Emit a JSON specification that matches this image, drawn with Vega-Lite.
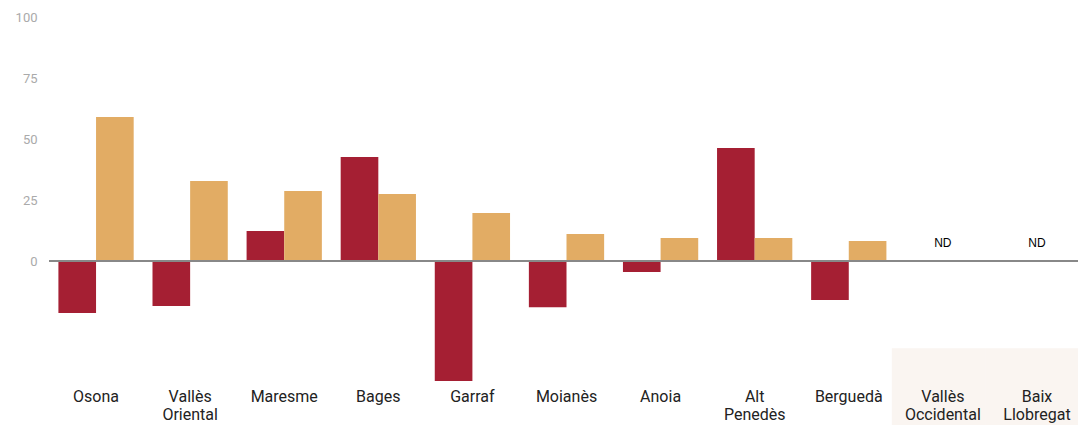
{
  "$schema": "https://vega.github.io/schema/vega-lite/v6.json",
  "autosize": {"type": "none"},
  "padding": {"left": 49, "top": 17, "right": 0, "bottom": 0},
  "width": 1035,
  "height": 408,
  "background": "white",
  "config": {"view": {"stroke": null}, "font": "Roboto"},
  "datasets": {
    "bars": [
      {"comarca": "Osona", "serie": "Sèrie 1", "valor": -21.3},
      {"comarca": "Osona", "serie": "Sèrie 2", "valor": 59.0},
      {"comarca": "Vallès Oriental", "serie": "Sèrie 1", "valor": -18.4},
      {"comarca": "Vallès Oriental", "serie": "Sèrie 2", "valor": 32.8},
      {"comarca": "Maresme", "serie": "Sèrie 1", "valor": 12.3},
      {"comarca": "Maresme", "serie": "Sèrie 2", "valor": 28.7},
      {"comarca": "Bages", "serie": "Sèrie 1", "valor": 42.6},
      {"comarca": "Bages", "serie": "Sèrie 2", "valor": 27.5},
      {"comarca": "Garraf", "serie": "Sèrie 1", "valor": -49.2},
      {"comarca": "Garraf", "serie": "Sèrie 2", "valor": 19.7},
      {"comarca": "Moianès", "serie": "Sèrie 1", "valor": -18.9},
      {"comarca": "Moianès", "serie": "Sèrie 2", "valor": 11.1},
      {"comarca": "Anoia", "serie": "Sèrie 1", "valor": -4.5},
      {"comarca": "Anoia", "serie": "Sèrie 2", "valor": 9.4},
      {"comarca": "Alt Penedès", "serie": "Sèrie 1", "valor": 46.3},
      {"comarca": "Alt Penedès", "serie": "Sèrie 2", "valor": 9.4},
      {"comarca": "Berguedà", "serie": "Sèrie 1", "valor": -16.0},
      {"comarca": "Berguedà", "serie": "Sèrie 2", "valor": 8.2},
      {"comarca": "Vallès Occidental", "serie": "Sèrie 1", "valor": 0},
      {"comarca": "Vallès Occidental", "serie": "Sèrie 2", "valor": 0},
      {"comarca": "Baix Llobregat", "serie": "Sèrie 1", "valor": 0},
      {"comarca": "Baix Llobregat", "serie": "Sèrie 2", "valor": 0}
    ],
    "nd": [
      {"comarca": "Vallès Occidental", "txt": "ND"},
      {"comarca": "Baix Llobregat", "txt": "ND"}
    ]
  },
  "layer": [
    {
      "data": {"name": "nd"},
      "mark": {"type": "rect", "color": "#faf5f1", "xOffset": -4},
      "encoding": {
        "x": {
          "field": "comarca",
          "type": "nominal",
          "sort": null,
          "scale": {
            "domain": ["Osona", "Vallès Oriental", "Maresme", "Bages", "Garraf", "Moianès", "Anoia", "Alt Penedès", "Berguedà", "Vallès Occidental", "Baix Llobregat"],
            "paddingInner": 0,
            "paddingOuter": 0
          },
          "axis": {
            "orient": "bottom",
            "offset": -38,
            "domain": false,
            "ticks": false,
            "grid": false,
            "labelAngle": 0,
            "labelFontSize": 16,
            "labelColor": "#222222",
            "labelFont": "Roboto",
            "labelExpr": "split(datum.label, ' ')",
            "labelLineHeight": 18,
            "labelPadding": 1,
            "title": null,
            "zindex": 1
          }
        },
        "y": {
          "datum": -35.7,
          "scale": {"domain": [-67.2, 100], "nice": false, "zero": false},
          "axis": {
            "values": [0, 25, 50, 75, 100],
            "domain": false,
            "ticks": false,
            "labelColor": "#aaaaaa",
            "labelFontSize": 13,
            "labelFont": "Roboto",
            "labelPadding": 12,
            "gridColor": "#ebebeb",
            "title": null
          }
        },
        "y2": {"datum": -67.2}
      }
    },
    {
      "data": {"name": "bars"},
      "mark": {"type": "bar"},
      "encoding": {
        "x": {"field": "comarca", "type": "nominal", "sort": null},
        "xOffset": {"field": "serie", "type": "nominal", "scale": {"paddingInner": 0, "paddingOuter": 0.25}},
        "y": {"field": "valor", "type": "quantitative"},
        "color": {
          "field": "serie",
          "type": "nominal",
          "scale": {"domain": ["Sèrie 1", "Sèrie 2"], "range": ["#a51f33", "#e2ac64"]},
          "legend": null
        }
      }
    },
    {
      "data": {"values": [{}]},
      "mark": {"type": "rule", "color": "#888888", "strokeWidth": 2},
      "encoding": {"y": {"datum": 0}}
    },
    {
      "data": {"name": "nd"},
      "mark": {"type": "text", "font": "Liberation Sans", "fontSize": 12, "color": "#000000", "dy": -18},
      "encoding": {
        "x": {"field": "comarca", "type": "nominal", "sort": null},
        "y": {"datum": 0},
        "text": {"field": "txt"}
      }
    }
  ]
}
